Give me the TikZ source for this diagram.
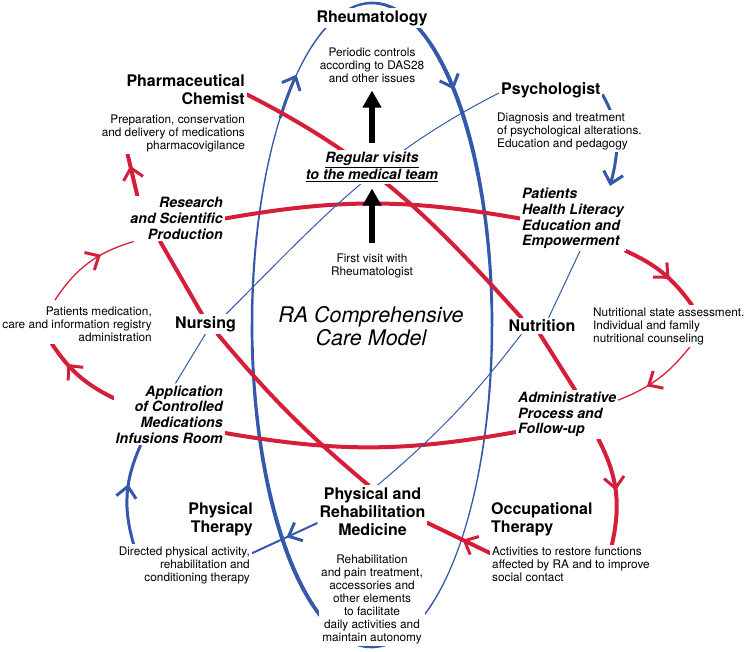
\documentclass[tikz,border=0pt]{standalone}
\usepackage{fontspec}
\setmainfont{TeX Gyre Heros}
\usepackage{tikz}
\usetikzlibrary{arrows.meta,decorations.markings}
\definecolor{colorR}{RGB}{213,30,58}
\definecolor{colorB}{RGB}{52,88,170}
\pgfdeclarelayer{back}
\pgfsetlayers{back,main}
\tikzstyle{role}=[font=\fontsize{16}{18}\selectfont\bfseries, fill=white, inner sep=2pt]
\tikzstyle{stage}=[font=\fontsize{14.2}{15.7}\selectfont\bfseries\itshape, fill=white, inner sep=2pt]
\tikzstyle{task}=[font=\fontsize{11.8}{13}\selectfont, fill=white, inner sep=2pt]
\tikzstyle{core}=[font=\fontsize{21.5}{23}\selectfont\itshape]
\tikzstyle{redln}=[draw=colorR, line width=4pt, line cap=round]
\tikzstyle{redthin}=[draw=colorR, line width=1.3pt, line cap=round]
\tikzstyle{blueln}=[draw=colorB, line width=3pt, line cap=round]
\tikzstyle{bluethin}=[draw=colorB, line width=1pt]
\tikzstyle{bigarrow}=[line width=5.5pt, -{Triangle[length=17pt,width=18pt]}]
\tikzset{chev/.tip={Straight Barb[length=11pt,width=20pt,line width=3pt]},
  midtip/.style={postaction={decorate,decoration={markings,mark=at position #1 with {\arrow{chev}}}}},
  midtip/.default=0.5}

\begin{document}
\begin{tikzpicture}[x=1pt,y=1pt]
\useasboundingbox (0,0) rectangle (750,-651);

% team
\node (rheum) [role] at (372,-18) {Rheumatology};
\node (psych) [role,anchor=west] at (499,-90) {Psychologist};
\node (pharm) [role,anchor=east,align=right] at (247,-89.5) {Pharmaceutical\\Chemist};
\node (nursing) [role] at (205.5,-324) {Nursing};
\node (nutrition) [role] at (542,-326) {Nutrition};
\node (pt) [role,anchor=east,align=right] at (255,-519.5) {Physical\\Therapy};
\node (prm) [role,align=center] at (372.5,-511.5) {Physical and\\Rehabilitation\\Medicine};
\node (ot) [role,anchor=west,align=left] at (489,-519.5) {Occupational\\Therapy};

% tasks
\node (rheumdesc) [task,align=center] at (372,-65) {Periodic controls\\according to DAS28\\and other issues};
\node (psychdesc) [task,anchor=west,align=left] at (495,-131) {Diagnosis and treatment\\of psychological alterations.\\Education and pedagogy};
\node (pharmdesc) [task,anchor=east,align=right] at (247,-133.5) {Preparation, conservation\\and delivery of medications\\pharmacovigilance};
\node (nursedesc) [task,anchor=east,align=right] at (154,-324.5) {Patients medication,\\care and information registry\\administration};
\node (nutrdesc) [task,anchor=west,align=left] at (591,-326) {Nutritional state assessment.\\Individual and family\\nutritional counseling};
\node (ptdesc) [task,anchor=east,align=right] at (252,-565) {Directed physical activity,\\rehabilitation and\\conditioning therapy};
\node (prmdesc) [task,align=center] at (372,-599) {Rehabilitation\\and pain treatment,\\accessories and\\other elements\\to facilitate\\daily activities and\\maintain autonomy};
\node (otdesc) [task,anchor=west,align=left] at (490,-564) {Activities to restore functions\\affected by RA and to improve\\social contact};
\node (firstvisit) [task,align=center] at (372,-266) {First visit with\\Rheumatologist};

% processes
\node (visits) [stage,align=center,font=\fontsize{14.2}{17}\selectfont\bfseries\itshape] at (372,-167) {\underline{Regular visits}\\\underline{to the medical team}};
\node (research) [stage,anchor=east,align=right] at (225,-218.5) {Research\\and Scientific\\Production};
\node (hl) [stage,anchor=west,align=left] at (520,-218.5) {Patients\\Health Literacy\\Education and\\Empowerment};
\node (app) [stage,anchor=east,align=right] at (225,-414.5) {Application\\of Controlled\\Medications\\Infusions Room};
\node (admin) [stage,anchor=west,align=left] at (516,-414.5) {Administrative\\Process and\\Follow-up};

\node (core) [core,align=center] at (371,-326) {RA Comprehensive\\Care Model};

\begin{pgfonlayer}{back}
% ring
\coordinate (ellc) at (372,-325);
\begin{scope}[shift={(ellc)}]
\foreach \a in {0,4,...,356}{
  \pgfmathsetmacro{\w}{2.6+1.4*cos(2*(\a+2-45))}
  \draw[colorB, line width=\w pt, line cap=round] (\a:120pt and 322pt) arc[start angle=\a, delta angle=4, x radius=120pt, y radius=322pt];
}
\draw[colorB, line width=3pt, -chev] (140:120pt and 322pt) arc[start angle=140, end angle=129, x radius=120pt, y radius=322pt];
\draw[colorB, line width=3pt, -chev] (58:120pt and 322pt) arc[start angle=58, end angle=47, x radius=120pt, y radius=322pt];
\end{scope}

% cross lines
\draw[redln] ([yshift=-5pt]pharm.east) to[out=-27,in=132] ([xshift=15pt]nutrition.north west);
\draw[redln] ([xshift=-2pt]nutrition.south) -- ([xshift=59pt]admin.north west);
\draw[redln] ([xshift=32pt]research.south west) -- ([xshift=29pt]nursing.north west);
\draw[redln] ([xshift=12pt]nursing.south) to[bend right=5] ([xshift=-4pt]prm.north);
\draw[redln] (research.east) to[bend left=10] (hl.west);
\draw[redln] ([yshift=-18.5pt]app.east) to[bend right=10] ([yshift=-17.5pt]admin.west);
\draw[bluethin] ([yshift=-3pt]psych.west) to[out=207,in=45] ([xshift=-12pt]nursing.north east);
\draw[bluethin] (nursing.south) -- ([xshift=62pt]app.north west);
\draw[bluethin] ([xshift=60pt]hl.south west) -- ([xshift=-29pt]nutrition.north east);
\draw[bluethin] ([xshift=15pt]nutrition.south west) to[bend left=6] ([xshift=5pt]prm.north);

% outer cycle
\draw[blueln, -chev] ([yshift=-5pt]psych.east) to[out=-60,in=75] ([xshift=90pt]hl.north west);
\draw[redln, midtip=0.6] (hl.south east) to[bend left=15] ([xshift=101pt]nutrdesc.north west);
\draw[redthin, midtip=0.65] ([xshift=99pt]nutrdesc.south west) to[bend left=15] ([yshift=14.5pt]admin.east);
\draw[redln, midtip=0.5] ([xshift=-20pt]admin.south east) to[bend left=20] ([xshift=41pt]otdesc.north);
\draw[redln, midtip=0.44] ([yshift=11pt]otdesc.west) -- ([yshift=-11.5pt]prm.east);
\draw[draw=colorB, line width=2pt, midtip=0.47] ([yshift=-11.5pt]prm.west) -- ([yshift=-9pt]ptdesc.north east);
\draw[blueln, midtip=0.6] ([xshift=17pt]ptdesc.north west) to[bend left=20] ([xshift=27pt]app.south west);
\draw[redln, midtip=0.7] ([yshift=16.5pt]app.west) to[bend left=15] ([xshift=-25pt]nursedesc.south);
\draw[redthin, midtip=0.65] ([xshift=-22pt,yshift=5pt]nursedesc.north) to[bend left=20] ([xshift=5pt]research.south west);
\draw[redln, midtip=0.72] ([xshift=9pt]research.north west) -- ([xshift=28pt]pharmdesc.south west);
\end{pgfonlayer}

% rheumatology path
\draw[bigarrow, shorten <=7pt, shorten >=6pt] (visits) -- (rheumdesc);
\draw[bigarrow, shorten <=8.6pt, shorten >=4.5pt] (firstvisit) -- (visits);

\end{tikzpicture}
\end{document}
